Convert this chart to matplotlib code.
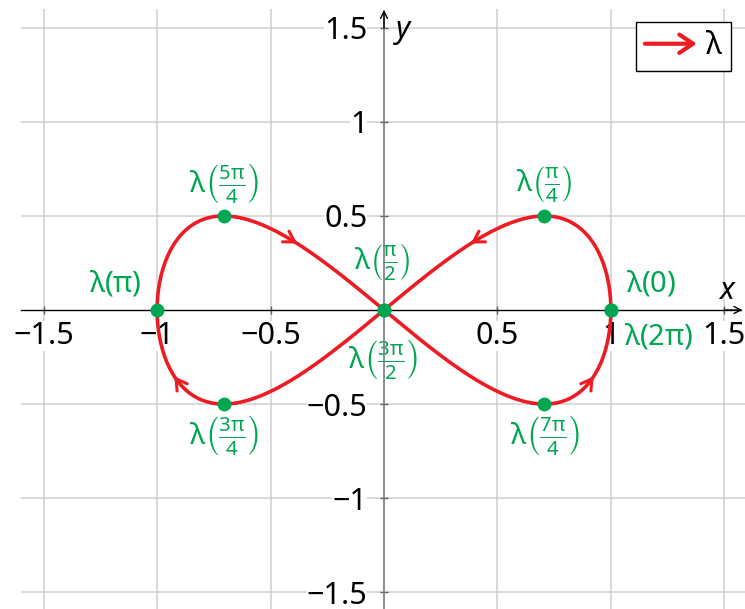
import numpy as np
import matplotlib
matplotlib.use("Agg")
import matplotlib.pyplot as plt
from matplotlib.patches import FancyArrowPatch
from matplotlib.legend_handler import HandlerBase

plt.rcParams['font.family'] = ['Noto Sans', 'DejaVu Sans']
plt.rcParams['mathtext.fontset'] = 'custom'
plt.rcParams['mathtext.rm'] = 'Noto Sans'
plt.rcParams['mathtext.it'] = 'Noto Sans'
plt.rcParams['mathtext.bf'] = 'Noto Sans:bold'

RED = '#ed1c24'
GREEN = '#00a651'

# parameter values of the marked points and their labels
point_t = [0, np.pi/4, np.pi/2, 3*np.pi/4, np.pi, 5*np.pi/4, 3*np.pi/2, 7*np.pi/4, 2*np.pi]
point_labels = [r'$\lambda(0)$',
                r'$\lambda\left(\frac{\pi}{4}\right)$',
                r'$\lambda\left(\frac{\pi}{2}\right)$',
                r'$\lambda\left(\frac{3\pi}{4}\right)$',
                r'$\lambda(\pi)$',
                r'$\lambda\left(\frac{5\pi}{4}\right)$',
                r'$\lambda\left(\frac{3\pi}{2}\right)$',
                r'$\lambda\left(\frac{7\pi}{4}\right)$',
                r'$\lambda(2\pi)$']
# direction arrows along the curve
arrow_t = [3*np.pi/8, 7*np.pi/8, 11*np.pi/8, 15*np.pi/8]

ticks = [-1.5, -1, -0.5, 0.5, 1, 1.5]
tick_labels = ['\u22121.5', '\u22121', '\u22120.5', '0.5', '1', '1.5']

# label offsets in pixels from each point
label_offsets = [(40, 27), (0, 32), (-2, 48), (0, -31), (-42, 26),
                 (0, 32), (-1, -50), (0, -31), (48, -26)]


def lam(t):
    t = np.asarray(t)
    return np.cos(t), np.sin(2*t) / 2


class ArrowHandler(HandlerBase):
    def create_artists(self, legend, orig_handle, xdescent, ydescent,
                       width, height, fontsize, trans):
        y = height / 2 - ydescent
        arr = FancyArrowPatch((-xdescent, y), (-xdescent + width, y),
                              arrowstyle='->,head_length=0.45,head_width=0.3',
                              mutation_scale=fontsize, color=orig_handle.get_color(),
                              lw=3, shrinkA=0, shrinkB=0,
                              transform=trans)
        return [arr]


fig = plt.figure(figsize=(7.45, 6.09), dpi=100)
ax = fig.add_axes([21/745, -2/609, 726/745, 602/609])
ax.set_xlim(-1.6, 1.6)
ax.set_ylim(-1.6, 1.6)

# axes through the origin
for s in ['top', 'right']:
    ax.spines[s].set_visible(False)
ax.spines['left'].set_position(('data', 0))
ax.spines['bottom'].set_position(('data', 0))
ax.spines['bottom'].set_bounds(-1.6, 1.575)
ax.spines['left'].set_bounds(-1.6, 1.59)
ax.spines['bottom'].set_color('black')
ax.spines['left'].set_color('#7a7a7a')
ax.spines['bottom'].set_linewidth(1)
ax.spines['left'].set_linewidth(1.2)
ax.annotate('', xy=(1.58, 0), xytext=(1.5, 0),
            arrowprops=dict(arrowstyle='->,head_length=0.5,head_width=0.25',
                            color='black', lw=1, shrinkA=0, shrinkB=0), zorder=2.6)
ax.annotate('', xy=(0, 1.595), xytext=(0, 1.5),
            arrowprops=dict(arrowstyle='->,head_length=0.5,head_width=0.25',
                            color='black', lw=1, shrinkA=0, shrinkB=0), zorder=2.6)

ax.set_xticks(ticks)
ax.set_yticks(ticks)
ax.set_xticklabels(tick_labels)
ax.set_yticklabels(tick_labels)
ax.tick_params(axis='both', direction='inout', length=6, width=1,
               color='#606060', labelsize=22)
ax.tick_params(axis='x', pad=5)
ax.tick_params(axis='y', pad=9)
for lbl in ax.get_xticklabels() + ax.get_yticklabels():
    lbl.set_bbox(dict(facecolor='white', edgecolor='none', pad=0))
ax.grid(True, color='#cfcfcf', lw=1.1)

ax.text(1.51, 0.1, 'x', fontsize=22, style='italic', ha='center', va='center')
ax.text(0.085, 1.49, 'y', fontsize=22, style='italic', ha='center', va='center')

# the curve
tt = np.linspace(0, 2*np.pi, 600)
cx, cy = lam(tt)
curve, = ax.plot(cx, cy, color=RED, lw=2.6, zorder=3, label='\u03bb')

for t in arrow_t:
    p = lam(t)
    q = lam(t - 0.04)
    ax.annotate('', xy=(float(p[0]), float(p[1])), xytext=(float(q[0]), float(q[1])),
                arrowprops=dict(arrowstyle='->,head_length=0.75,head_width=0.45',
                                color=RED, lw=2.2, shrinkA=0, shrinkB=0), zorder=3)

px, py = lam(point_t)
ax.plot(px, py, 'o', color=GREEN, ms=9, zorder=4)
for x, y, lab, off in zip(px, py, point_labels, label_offsets):
    ax.annotate(lab, xy=(x, y), xytext=off, textcoords='offset pixels',
                ha='center', va='center', color=GREEN, fontsize=21,
                bbox=dict(facecolor='white', edgecolor='none', pad=0.5), zorder=2)

leg = ax.legend(handles=[curve], labels=['\u03bb'], handler_map={curve: ArrowHandler()},
                loc='upper right', bbox_to_anchor=(0.978, 0.978), borderaxespad=0,
                fontsize=22, handlelength=1.7, handletextpad=0.3, borderpad=0.3,
                fancybox=False, framealpha=1, edgecolor='black')
leg.get_frame().set_linewidth(1)
leg.set_zorder(5)

fig.savefig('out.png', dpi=100)
